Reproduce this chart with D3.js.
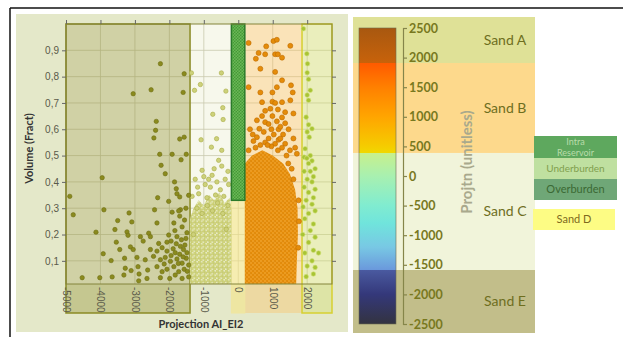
<!DOCTYPE html>
<html>
<head>
<meta charset="utf-8">
<script src="https://cdn.jsdelivr.net/npm/d3@7/dist/d3.min.js"></script>
<style>
  html, body { margin: 0; padding: 0; background: #fff; }
  svg { display: block; font-family: Lato, "Open Sans", "DejaVu Sans", sans-serif; }
</style>
</head>
<body>
<svg id="chart" width="623" height="337"></svg>
<script>
// ---- data ----------------------------------------------------------------- //
const xTicks = [-5000, -4000, -3000, -2000, -1000, 0, 1000, 2000];
const yTicks = [0.1, 0.2, 0.3, 0.4, 0.5, 0.6, 0.7, 0.8, 0.9];
const xDomain = [-5000, 2720];
const yDomain = [0.012, 1.0];

// zone boxes on the scatter (projection ranges)
const zoneNames = ["Sand E", "Sand B", "Sand A", "Sand D"];
const zoneFrom  = [-5000, 190, 1850, -200];
const zoneTo    = [-1400, 1850, 2720, 190];
const zoneTop   = [1.0, 1.0, 1.0, 0.33];

// intra-reservoir box: x range, volume range
const intraX = [-200, 190];
const intraY = [0.33, 1.0];

// dense clouds, outline as [projection, volume]
const orangeCloud = [[190, 0.012], [190, 0.47], [400, 0.5], [700, 0.52], [1000, 0.5], [1300, 0.47],
  [1500, 0.43], [1650, 0.37], [1720, 0.3], [1730, 0.2], [1700, 0.1], [1680, 0.012]];
const sandCCloud = [[-1400, 0.012], [-1400, 0.26], [-1300, 0.3], [-1150, 0.33], [-1000, 0.31],
  [-850, 0.35], [-700, 0.33], [-550, 0.36], [-400, 0.32], [-250, 0.34], [-200, 0.3], [-200, 0.012]];

// single samples
const sandEPts = [
  [-2260,0.849],[-1570,0.811],[-3050,0.735],[-2530,0.75],[-1600,0.74],[-2380,0.63],[-2400,0.596],[-2450,0.567],[-1700,0.563],[-1570,0.57],
  [-2280,0.505],[-1920,0.505],[-1510,0.505],[-1660,0.484],[-2240,0.463],[-2120,0.431],[-3950,0.416],[-1850,0.40],[-1800,0.374],[-1440,0.349],
  [-1780,0.355],[-2340,0.34],[-2020,0.326],[-4890,0.345],[-1700,0.343],[-1680,0.294],[-1730,0.29],[-1920,0.285],[-4790,0.275],[-3900,0.294],
  [-2430,0.294],[-3170,0.282],[-3500,0.253],[-3090,0.248],[-2360,0.244],[-1870,0.244],[-1630,0.229],[-3580,0.219],[-4130,0.209],[-3230,0.21],
  [-3200,0.197],[-2840,0.192],[-2600,0.205],[-2550,0.192],[-2020,0.198],[-1780,0.192],[-1490,0.207],[-2760,0.175],[-2310,0.166],[-2070,0.171],
  [-3540,0.171],[-3130,0.153],[-3050,0.143],[-3440,0.143],[-2550,0.143],[-2360,0.137],[-2210,0.15],[-2070,0.137],[-1890,0.146],[-1830,0.131],
  [-1680,0.155],[-1590,0.143],[-1490,0.131],[-3920,0.127],[-3300,0.11],[-2940,0.113],[-2700,0.104],[-2460,0.117],[-2260,0.104],[-2120,0.113],
  [-1970,0.098],[-1780,0.107],[-1630,0.091],[-1510,0.11],[-3690,0.101],[-3280,0.072],[-3110,0.063],[-2910,0.078],[-2630,0.065],[-2360,0.078],
  [-2210,0.059],[-2070,0.068],[-1870,0.078],[-1730,0.059],[-1570,0.068],[-1440,0.084],[-4530,0.036],[-4020,0.036],[-3660,0.039],[-3320,0.046],
  [-2890,0.024],[-2650,0.033],[-2260,0.036],[-1990,0.033],[-1830,0.046],[-1630,0.033],[-1440,0.039],[-2880,0.05],
  [-1950,0.12],[-1700,0.125],[-1550,0.16],[-1650,0.18],[-1800,0.165],[-1520,0.185],[-1950,0.175],[-1740,0.09],[-1600,0.115],[-1480,0.06],
  [-2150,0.088],[-1840,0.215],[-1560,0.255],[-1700,0.27],[-1520,0.3]
];
const sandCPts = [
  [-1360,0.814],[-490,0.814],[-1100,0.77],[-360,0.745],[-1270,0.748],[-450,0.682],[-740,0.657],[-440,0.637],[-1080,0.56],[-630,0.564],
  [-780,0.532],[-480,0.52],[-1050,0.444],[-570,0.482],[-480,0.46],[-760,0.425],[-620,0.40],[-380,0.41],[-1250,0.41],[-960,0.39],
  [-810,0.38],[-520,0.37],[-280,0.39],[-1150,0.355],[-660,0.35],[-420,0.345],[-1340,0.345],[-910,0.34],
  [-1200,0.3],[-900,0.31],[-600,0.32],[-300,0.31],[-1050,0.28],[-750,0.29],[-450,0.28],[-1300,0.2],[-350,0.22],
  [-1000,0.42],[-700,0.45],[-300,0.44],[-1180,0.38],[-860,0.41]
];
const orangePts = [
  [300,0.928],[810,0.915],[1020,0.935],[1120,0.94],[1510,0.917],[590,0.89],[780,0.885],[1070,0.885],[1150,0.885],[1270,0.872],
  [510,0.868],[640,0.83],[1070,0.818],[1270,0.786],[300,0.76],[1120,0.76],[640,0.74],[990,0.74],[1510,0.71],[690,0.703],
  [990,0.705],[1070,0.70],[1270,0.703],[930,0.678],[1150,0.675],[780,0.67],[1360,0.665],[690,0.65],[990,0.65],[1270,0.645],
  [540,0.634],[1120,0.63],[780,0.627],[1360,0.623],[610,0.602],[960,0.6],[1170,0.6],[1460,0.6],[340,0.6],[740,0.59],
  [1030,0.58],[1300,0.58],[540,0.57],[880,0.565],[1170,0.56],[1600,0.565],[440,0.555],[780,0.55],[1070,0.545],[1360,0.545],
  [640,0.54],[960,0.535],[1270,0.53],[1700,0.507],[1220,0.565],[1530,0.767],[1580,0.74],[1600,0.66],[1650,0.53],[1550,0.45],
  [1600,0.41],[1750,0.33],[1760,0.25],[1740,0.15],
  [300,0.52],[500,0.53],[850,0.54],[1150,0.52],[1400,0.5],[1450,0.47],[1220,0.61],[880,0.62],[420,0.58],[1500,0.52]
];
const sandAPts = [
  [1890,0.982],[1990,0.887],[2010,0.849],[2000,0.815],[2040,0.79],[2090,0.748],[2000,0.73],[2040,0.71],[1970,0.646],[2040,0.617],
  [2140,0.602],[2000,0.59],[2060,0.57],[1940,0.526],[2090,0.50],[1910,0.494],[1990,0.49],[2140,0.48],[2040,0.47],[2230,0.45],
  [1910,0.44],[2090,0.44],[2180,0.42],[2000,0.41],[2140,0.40],[1910,0.38],[2230,0.372],[2040,0.36],[2180,0.34],[1970,0.33],
  [2140,0.315],[1880,0.305],[2230,0.29],[2040,0.28],[1930,0.26],[2180,0.24],[2090,0.215],[1870,0.2],[2230,0.19],[2040,0.17],
  [2180,0.14],[1930,0.13],[2330,0.13],[2140,0.10],[2000,0.08],[2230,0.075],[2180,0.05],[1970,0.04]
];

// right-hand colour key
const cbTicks = [2500, 2000, 1500, 1000, 500, 0, -500, -1000, -1500, -2000, -2500];
const bandNames = ["Sand A", "Sand B", "Sand C", "Sand E"];
const bandTop   = [2686, 1909, 389, -1588];
const bandBot   = [1909, 389, -1588, -2652];
const legendNames = ["Intra Reservoir", "Underburden", "Overburden", "Sand D"];

// ---- drawing --------------------------------------------------------------- //
const svg = d3.select("#chart");
const defs = svg.append("defs");

// dotted fills to stand in for the thousands of overlapping samples
function dotPattern(id, size, bg, fill, stroke, r) {
  const p = defs.append("pattern").attr("id", id).attr("patternUnits", "userSpaceOnUse")
    .attr("width", size).attr("height", size);
  p.append("rect").attr("width", size).attr("height", size).attr("fill", bg);
  [[0.25, 0.25], [0.75, 0.75]].forEach(([a, b]) =>
    p.append("circle").attr("cx", a * size).attr("cy", b * size).attr("r", r)
      .attr("fill", fill).attr("stroke", stroke).attr("stroke-width", 0.4));
}
dotPattern("pOrange", 4, "#e58c08", "#f3a228", "#d07a00", 1.4);
dotPattern("pSandC", 4.5, "#e9ecc4", "#d2d67e", "#b0b450", 1.6);
dotPattern("pGreen", 3, "#449a36", "#6cb858", "none", 0.9);

// frame lines
svg.append("line").attr("x1", 10).attr("x2", 623).attr("y1", 8).attr("y2", 8)
  .attr("stroke", "#111").attr("stroke-width", 1.5);
svg.append("line").attr("x1", 10).attr("x2", 10).attr("y1", 8).attr("y2", 337)
  .attr("stroke", "#111").attr("stroke-width", 1.5);

// left panel
const L = { left: 66, right: 332, top: 24, bottom: 284, band: 29 };
svg.append("rect").attr("x", 16).attr("y", 14).attr("width", 332).attr("height", 318).attr("fill", "#e4e8c9");

const x = d3.scaleLinear().domain(xDomain).range([L.left, L.right]);
const y = d3.scaleLinear().domain(yDomain).range([L.bottom, L.top]);

svg.append("clipPath").attr("id", "plotClip").append("rect")
  .attr("x", L.left).attr("y", L.top).attr("width", L.right - L.left).attr("height", L.bottom - L.top);

svg.append("rect").attr("x", L.left).attr("y", L.top).attr("width", L.right - L.left)
  .attr("height", L.bottom - L.top).attr("fill", "#f7f8ec");

const grid = svg.append("g").attr("stroke", "#c9c9ae").attr("stroke-width", 0.8);
grid.selectAll("line.v").data(xTicks).join("line").attr("class", "v")
  .attr("x1", d => x(d)).attr("x2", d => x(d)).attr("y1", L.top).attr("y2", L.bottom);
grid.selectAll("line.h").data(yTicks).join("line").attr("class", "h")
  .attr("y1", d => y(d)).attr("y2", d => y(d)).attr("x1", L.left).attr("x2", L.right);

const zoneStyle = {
  "Sand E": { fill: "rgba(150,150,60,0.4)", stroke: "#8a8a24", sw: 1.5 },
  "Sand B": { fill: "rgba(255,190,90,0.35)", stroke: "none", sw: 0 },
  "Sand A": { fill: "rgba(210,220,100,0.35)", stroke: "#d6d030", sw: 1.5 },
  "Sand D": { fill: "rgba(245,228,130,0.55)", stroke: "#f0e6a0", sw: 1 }
};
svg.append("g").selectAll("rect").data(zoneNames).join("rect")
  .attr("x", (d, i) => x(zoneFrom[i]))
  .attr("width", (d, i) => x(zoneTo[i]) - x(zoneFrom[i]))
  .attr("y", (d, i) => y(zoneTop[i]))
  .attr("height", (d, i) => L.bottom + L.band - y(zoneTop[i]))
  .attr("fill", d => zoneStyle[d].fill)
  .attr("stroke", d => zoneStyle[d].stroke)
  .attr("stroke-width", d => zoneStyle[d].sw);

const cloudLine = d3.line().x(d => x(d[0])).y(d => y(d[1])).curve(d3.curveLinearClosed);
const clouds = svg.append("g").attr("clip-path", "url(#plotClip)");
clouds.append("path").attr("d", cloudLine(sandCCloud)).attr("fill", "url(#pSandC)");
clouds.append("path").attr("d", cloudLine(orangeCloud)).attr("fill", "url(#pOrange)");

function dots(pts, fill, stroke, r) {
  svg.append("g").attr("clip-path", "url(#plotClip)")
    .selectAll("circle").data(pts).join("circle")
    .attr("cx", d => x(d[0])).attr("cy", d => y(d[1])).attr("r", r)
    .attr("fill", fill).attr("stroke", stroke).attr("stroke-width", 0.6);
}
dots(sandCPts, "#cdd17a", "#a9ad48", 2.2);
dots(sandEPts, "#8a8a1e", "#6e6e14", 2.2);
dots(orangePts, "#e48c0a", "#c06c00", 2.5);
dots(sandAPts, "#a8c434", "#d2e07a", 2.3);

// intra-reservoir box
svg.append("rect").attr("x", x(intraX[0])).attr("y", y(intraY[1]))
  .attr("width", x(intraX[1]) - x(intraX[0])).attr("height", y(intraY[0]) - y(intraY[1]))
  .attr("fill", "url(#pGreen)").attr("stroke", "#2a7a2a").attr("stroke-width", 1.5);

// plot frame
svg.append("rect").attr("x", L.left).attr("y", L.top).attr("width", L.right - L.left)
  .attr("height", L.bottom - L.top).attr("fill", "none").attr("stroke", "#84843a").attr("stroke-width", 1);

// axes
const comma = d => d3.format(".1f")(d).replace(".", ",");
const ax = svg.append("g").attr("font-family", "Lato, 'Open Sans', sans-serif");
ax.append("g").attr("transform", `translate(${L.left},0)`)
  .call(d3.axisLeft(y).tickValues(yTicks).tickSize(4).tickPadding(3).tickFormat(comma))
  .call(g => g.select(".domain").remove());
ax.append("g").attr("transform", `translate(${L.right},0)`)
  .call(d3.axisRight(y).tickValues(yTicks).tickSize(4).tickFormat(""))
  .call(g => g.select(".domain").remove());
ax.append("g").attr("transform", `translate(0,${L.top})`)
  .call(d3.axisTop(x).tickValues(xTicks).tickSize(4).tickFormat(""))
  .call(g => g.select(".domain").remove());
ax.append("g").attr("transform", `translate(0,${L.bottom})`)
  .call(d3.axisBottom(x).tickValues(xTicks).tickSize(0).tickFormat(d => String(d)))
  .call(g => g.select(".domain").remove())
  .call(g => g.selectAll("text").attr("transform", "rotate(90)").attr("x", 3).attr("y", 0)
    .attr("dy", "0.35em").style("text-anchor", "start"));
ax.selectAll(".tick line").attr("stroke", "#666");
ax.selectAll(".tick text").attr("fill", "#5a5a4a").attr("font-size", 10);

svg.append("text").attr("transform", "translate(33,148.5) rotate(-90)").attr("text-anchor", "middle")
  .attr("font-size", 11).attr("font-weight", "bold").attr("fill", "#333").text("Volume (Fract)");
svg.append("text").attr("x", 201).attr("y", 328).attr("text-anchor", "middle")
  .attr("font-size", 11).attr("font-weight", "bold").attr("fill", "#333").text("Projection AI_EI2");

// right panel: colour key
const cb = d3.scaleLinear().domain([-2500, 2500]).range([324, 28]);
const bandFill = { "Sand A": "#dfe197", "Sand B": "#fdd98c", "Sand C": "#f1f4da", "Sand E": "#c2be8a" };
svg.append("g").selectAll("rect").data(bandNames).join("rect")
  .attr("x", 353).attr("width", 182)
  .attr("y", (d, i) => cb(bandTop[i])).attr("height", (d, i) => cb(bandBot[i]) - cb(bandTop[i]))
  .attr("fill", d => bandFill[d]);
svg.append("g").selectAll("text").data(bandNames).join("text")
  .attr("x", 505).attr("y", (d, i) => cb((bandTop[i] + bandBot[i]) / 2)).attr("dy", "0.35em")
  .attr("text-anchor", "middle").attr("font-size", 14).attr("fill", "#6e6e1e").text(d => d);

const stops = [
  [2500, "#a85810"], [2050, "#c0600c"], [1909, "#c8620a"], [1909, "#ff5a00"], [1500, "#ff8000"],
  [1000, "#ffa500"], [500, "#f5cc00"], [389, "#f0d800"], [389, "#c8f08c"], [0, "#a8f0b0"],
  [-500, "#80ecd0"], [-800, "#70e4dc"], [-1200, "#78c8e4"], [-1588, "#6a98dc"], [-1588, "#4a5aa0"],
  [-2000, "#34387a"], [-2500, "#333340"]
];
const grad = defs.append("linearGradient").attr("id", "cbGrad").attr("x1", 0).attr("x2", 0).attr("y1", 0).attr("y2", 1);
grad.selectAll("stop").data(stops).join("stop")
  .attr("offset", d => (2500 - d[0]) / 5000).attr("stop-color", d => d[1]);
svg.append("rect").attr("x", 359).attr("width", 37).attr("y", cb(2500)).attr("height", cb(-2500) - cb(2500))
  .attr("fill", "url(#cbGrad)").attr("stroke", "#6b6b50").attr("stroke-width", 0.6);

svg.append("g").attr("transform", "translate(403,0)")
  .call(d3.axisRight(cb).tickValues(cbTicks).tickSize(4).tickPadding(2).tickFormat(d => String(d)))
  .call(g => g.selectAll("path,line").attr("stroke", "#85854a").attr("stroke-width", 1.2))
  .call(g => g.selectAll("text").attr("fill", "#78781e").attr("font-size", 12.5).attr("font-weight", "bold")
    .attr("font-family", "Lato, 'Open Sans', sans-serif"));

svg.append("text").attr("transform", "translate(472,162) rotate(-90)").attr("text-anchor", "middle")
  .attr("font-size", 15).attr("font-weight", "bold").attr("fill", "#a9a98c").text("Projtn (unitless)");

// legend boxes
const legendBox = {
  "Intra Reservoir": { x: 534, y: 136, w: 83, h: 22, fill: "#5ea85e", ink: "#b9dcaa", fs: 9 },
  "Underburden":     { x: 534, y: 158, w: 83, h: 21, fill: "#bfe0a0", ink: "#7f9f4e", fs: 10 },
  "Overburden":      { x: 534, y: 179, w: 83, h: 21, fill: "#6fa777", ink: "#3b6934", fs: 11 },
  "Sand D":          { x: 533, y: 209, w: 82, h: 21, fill: "#fdfc84", ink: "#7e6a1e", fs: 11 }
};
const lg = svg.append("g").selectAll("g").data(legendNames).join("g");
lg.append("rect").attr("x", d => legendBox[d].x).attr("y", d => legendBox[d].y)
  .attr("width", d => legendBox[d].w).attr("height", d => legendBox[d].h).attr("fill", d => legendBox[d].fill);
lg.each(function (d) {
  const b = legendBox[d];
  const words = d === "Intra Reservoir" ? ["Intra", "Reservoir"] : [d];
  const t = d3.select(this).append("text").attr("text-anchor", "middle")
    .attr("font-size", b.fs).attr("fill", b.ink);
  words.forEach((w, i) => t.append("tspan").attr("x", b.x + b.w / 2)
    .attr("y", b.y + b.h / 2 + (i - (words.length - 1) / 2) * 11).attr("dy", "0.35em").text(w));
});
</script>
</body>
</html>
